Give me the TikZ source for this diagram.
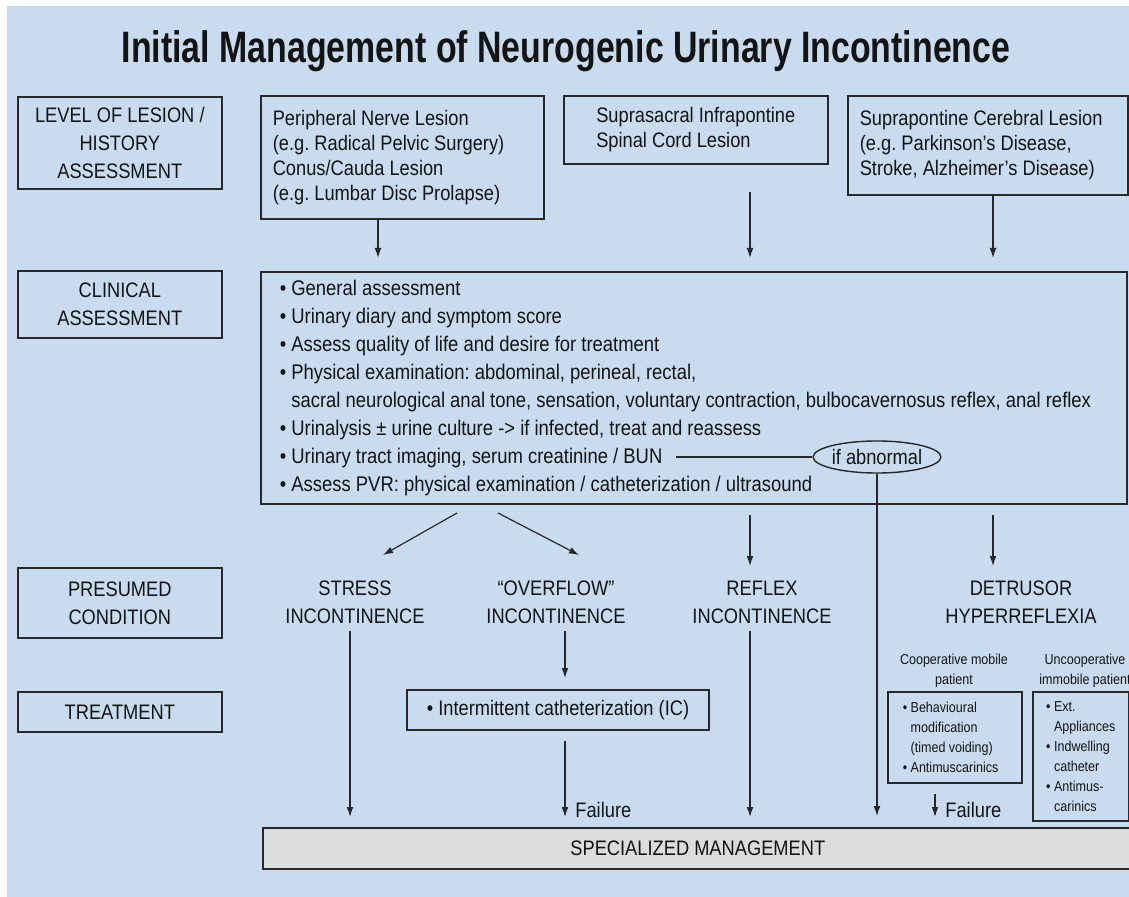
\documentclass[tikz,border=0pt]{standalone}
\usepackage{fontspec}
\setmainfont{Liberation Sans}[FakeStretch=0.87]
\newfontfamily\titlefont{Liberation Sans}[FakeStretch=0.77]
\usetikzlibrary{arrows.meta,shapes.geometric}

\definecolor{panelblue}{RGB}{200,219,239}
\definecolor{mgmtgray}{RGB}{218,220,222}
\definecolor{inkline}{RGB}{40,40,40}

\tikzstyle{box}=[draw=inkline, line width=0.8pt, inner sep=0pt]
\tikzstyle{stage}=[box, anchor=north west, minimum width=102pt, align=center]
\tikzstyle{lesion}=[box, anchor=north west, align=flush left, inner xsep=6pt, font=\fontsize{10.5}{12.5}\selectfont]
\tikzstyle{condition}=[align=center, inner sep=1pt]
\tikzstyle{small}=[font=\fontsize{7.2}{10}\selectfont]
\tikzstyle{failure}=[anchor=base west, inner xsep=5pt, inner ysep=0pt]
\tikzstyle{arrow}=[draw=inkline, line width=0.6pt, -{Latex[length=5pt,width=3.4pt]}]

\begin{document}
\frenchspacing
\begin{tikzpicture}[x=0.5pt, y=-0.5pt, font=\fontsize{10.5}{14}\selectfont, text=black!92]
      \useasboundingbox (0,0) rectangle (1129,897);
      \fill[white] (0,0) rectangle (1129,897);
      \fill[panelblue] (7,6) rectangle (1129,897);

      \node[font=\titlefont\bfseries\fontsize{22}{26}\selectfont, anchor=base] (title) at (566,63) {Initial Management of Neurogenic Urinary Incontinence};

      \node[stage, minimum height=46pt] (lvl) at (17,96) {LEVEL OF LESION /\\HISTORY\\ASSESSMENT};
      \node[stage, minimum height=33.5pt] (clinlbl) at (17,270) {CLINICAL\\ASSESSMENT};
      \node[stage, minimum height=35pt] (preslbl) at (17,567) {PRESUMED\\CONDITION};
      \node[stage, minimum height=20pt] (treatlbl) at (17,691) {TREATMENT};

      \node[lesion, minimum height=61.5pt, text width=129.5pt] (peri) at (260,95) {Peripheral Nerve Lesion\\(e.g. Radical Pelvic Surgery)\\Conus/Cauda Lesion\\(e.g. Lumbar Disc Prolapse)};
      \node[lesion, minimum width=132pt, minimum height=34pt] (supra) at (563,95) {Suprasacral Infrapontine\\Spinal Cord Lesion};
      \node[lesion, minimum height=49.5pt, text width=128pt] (cere) at (847,95) {Suprapontine Cerebral Lesion\\(e.g. Parkinson's Disease,\\Stroke, Alzheimer's Disease)};

      \node[box, anchor=north west, minimum height=116pt, text width=414pt, inner xsep=9.5pt, align=flush left, font=\fontsize{10.6}{14}\selectfont] (clin) at (260,271) {\textbullet\ General assessment\\
        \textbullet\ Urinary diary and symptom score\\
        \textbullet\ Assess quality of life and desire for treatment\\
        \textbullet\ Physical examination: abdominal, perineal, rectal,\\
        \phantom{\textbullet\ }sacral neurological anal tone, sensation, voluntary contraction, bulbocavernosus reflex, anal reflex\\
        \textbullet\ Urinalysis ± urine culture -> if infected, treat and reassess\\
        \textbullet\ Urinary tract imaging, serum creatinine / BUN\\
        \textbullet\ Assess PVR: physical examination / catheterization / ultrasound};
      \node[draw=inkline, line width=0.7pt, ellipse, minimum width=58pt, minimum height=16pt, inner sep=0pt] (abn) at (877,457) {if abnormal};
      \coordinate (bun) at (676,457);

      \node[condition] (stress) at (355,602) {STRESS\\INCONTINENCE};
      \node[condition] (over) at (556,602) {``OVERFLOW''\\INCONTINENCE};
      \node[condition] (reflex) at (762,602) {REFLEX\\INCONTINENCE};
      \node[condition] (detr) at (1021,602) {DETRUSOR\\HYPERREFLEXIA};

      \node[box, minimum width=151pt, minimum height=20pt] (ic) at (558,710) {\textbullet\ Intermittent catheterization (IC)};
      \node[small, align=center] (coopl) at (954,671) {Cooperative mobile\\patient};
      \node[box, small, anchor=north west, minimum height=45.5pt, text width=52pt, inner xsep=7.5pt, align=flush left] (coop) at (887,691) {\textbullet\ Behavioural\\\phantom{\textbullet\ }modification\\\phantom{\textbullet\ }(timed voiding)\\\textbullet\ Antimuscarinics};
      \node[small, align=center] (uncoopl) at (1085,671) {Uncooperative\\immobile patient};
      \node[box, small, anchor=north west, minimum width=48pt, minimum height=64.5pt, align=left] (uncoop) at (1032,691) {\textbullet\ Ext.\\\phantom{\textbullet\ }Appliances\\\textbullet\ Indwelling\\\phantom{\textbullet\ }catheter\\\textbullet\ Antimus-\\\phantom{\textbullet\ }carinics};

      \node[failure] (icfail) at (565,817) {Failure};
      \node[failure] (coopfail) at (935,817) {Failure};
      \node[box, fill=mgmtgray, anchor=north west, minimum width=435pt, minimum height=20.5pt] (spec) at (262,827) {SPECIALIZED MANAGEMENT};

      \coordinate (peritip) at (378,258);
      \coordinate (supratip) at (750,258);
      \coordinate (ceretip) at (993,258);
      \coordinate (stressstart) at (457,513);
      \coordinate (stressend) at (383,555);
      \coordinate (overstart) at (498,513);
      \coordinate (overend) at (579,555);
      \coordinate (reflexin) at (750,566);
      \coordinate (detrin) at (993,566);
      \coordinate (stresstip) at (350,817);
      \coordinate (overtip) at (565,678);
      \coordinate (reflextip) at (750,817);

      \draw[arrow] (peritip |- peri.south) to (peritip);
      \draw[arrow, shorten <=13.5pt] (supratip |- supra.south) to (supratip);
      \draw[arrow] (ceretip |- cere.south) to (ceretip);
      \draw[draw=inkline, line width=0.6pt] (bun) to (abn);
      \draw[arrow] (stressstart) to (stressend);
      \draw[arrow] (overstart) to (overend);
      \draw[arrow, shorten <=5pt] (reflexin |- clin.south) to (reflexin);
      \draw[arrow, shorten <=5pt] (detrin |- clin.south) to (detrin);
      \draw[arrow, shorten <=2.5pt] (stresstip |- stress.south) to (stresstip);
      \draw[arrow, shorten <=2.5pt] (overtip |- over.south) to (overtip);
      \draw[arrow, shorten <=2.5pt] (reflextip |- reflex.south) to (reflextip);
      \draw[arrow, shorten <=5pt] (icfail.base west |- ic.south) to (icfail.base west);
      \draw[arrow, shorten <=5pt] (coopfail.base west |- coop.south) to (coopfail.base west);
      \draw[arrow, shorten >=5.5pt] (abn.south) to (abn.south |- spec.north);
    \end{tikzpicture}
\end{document}
